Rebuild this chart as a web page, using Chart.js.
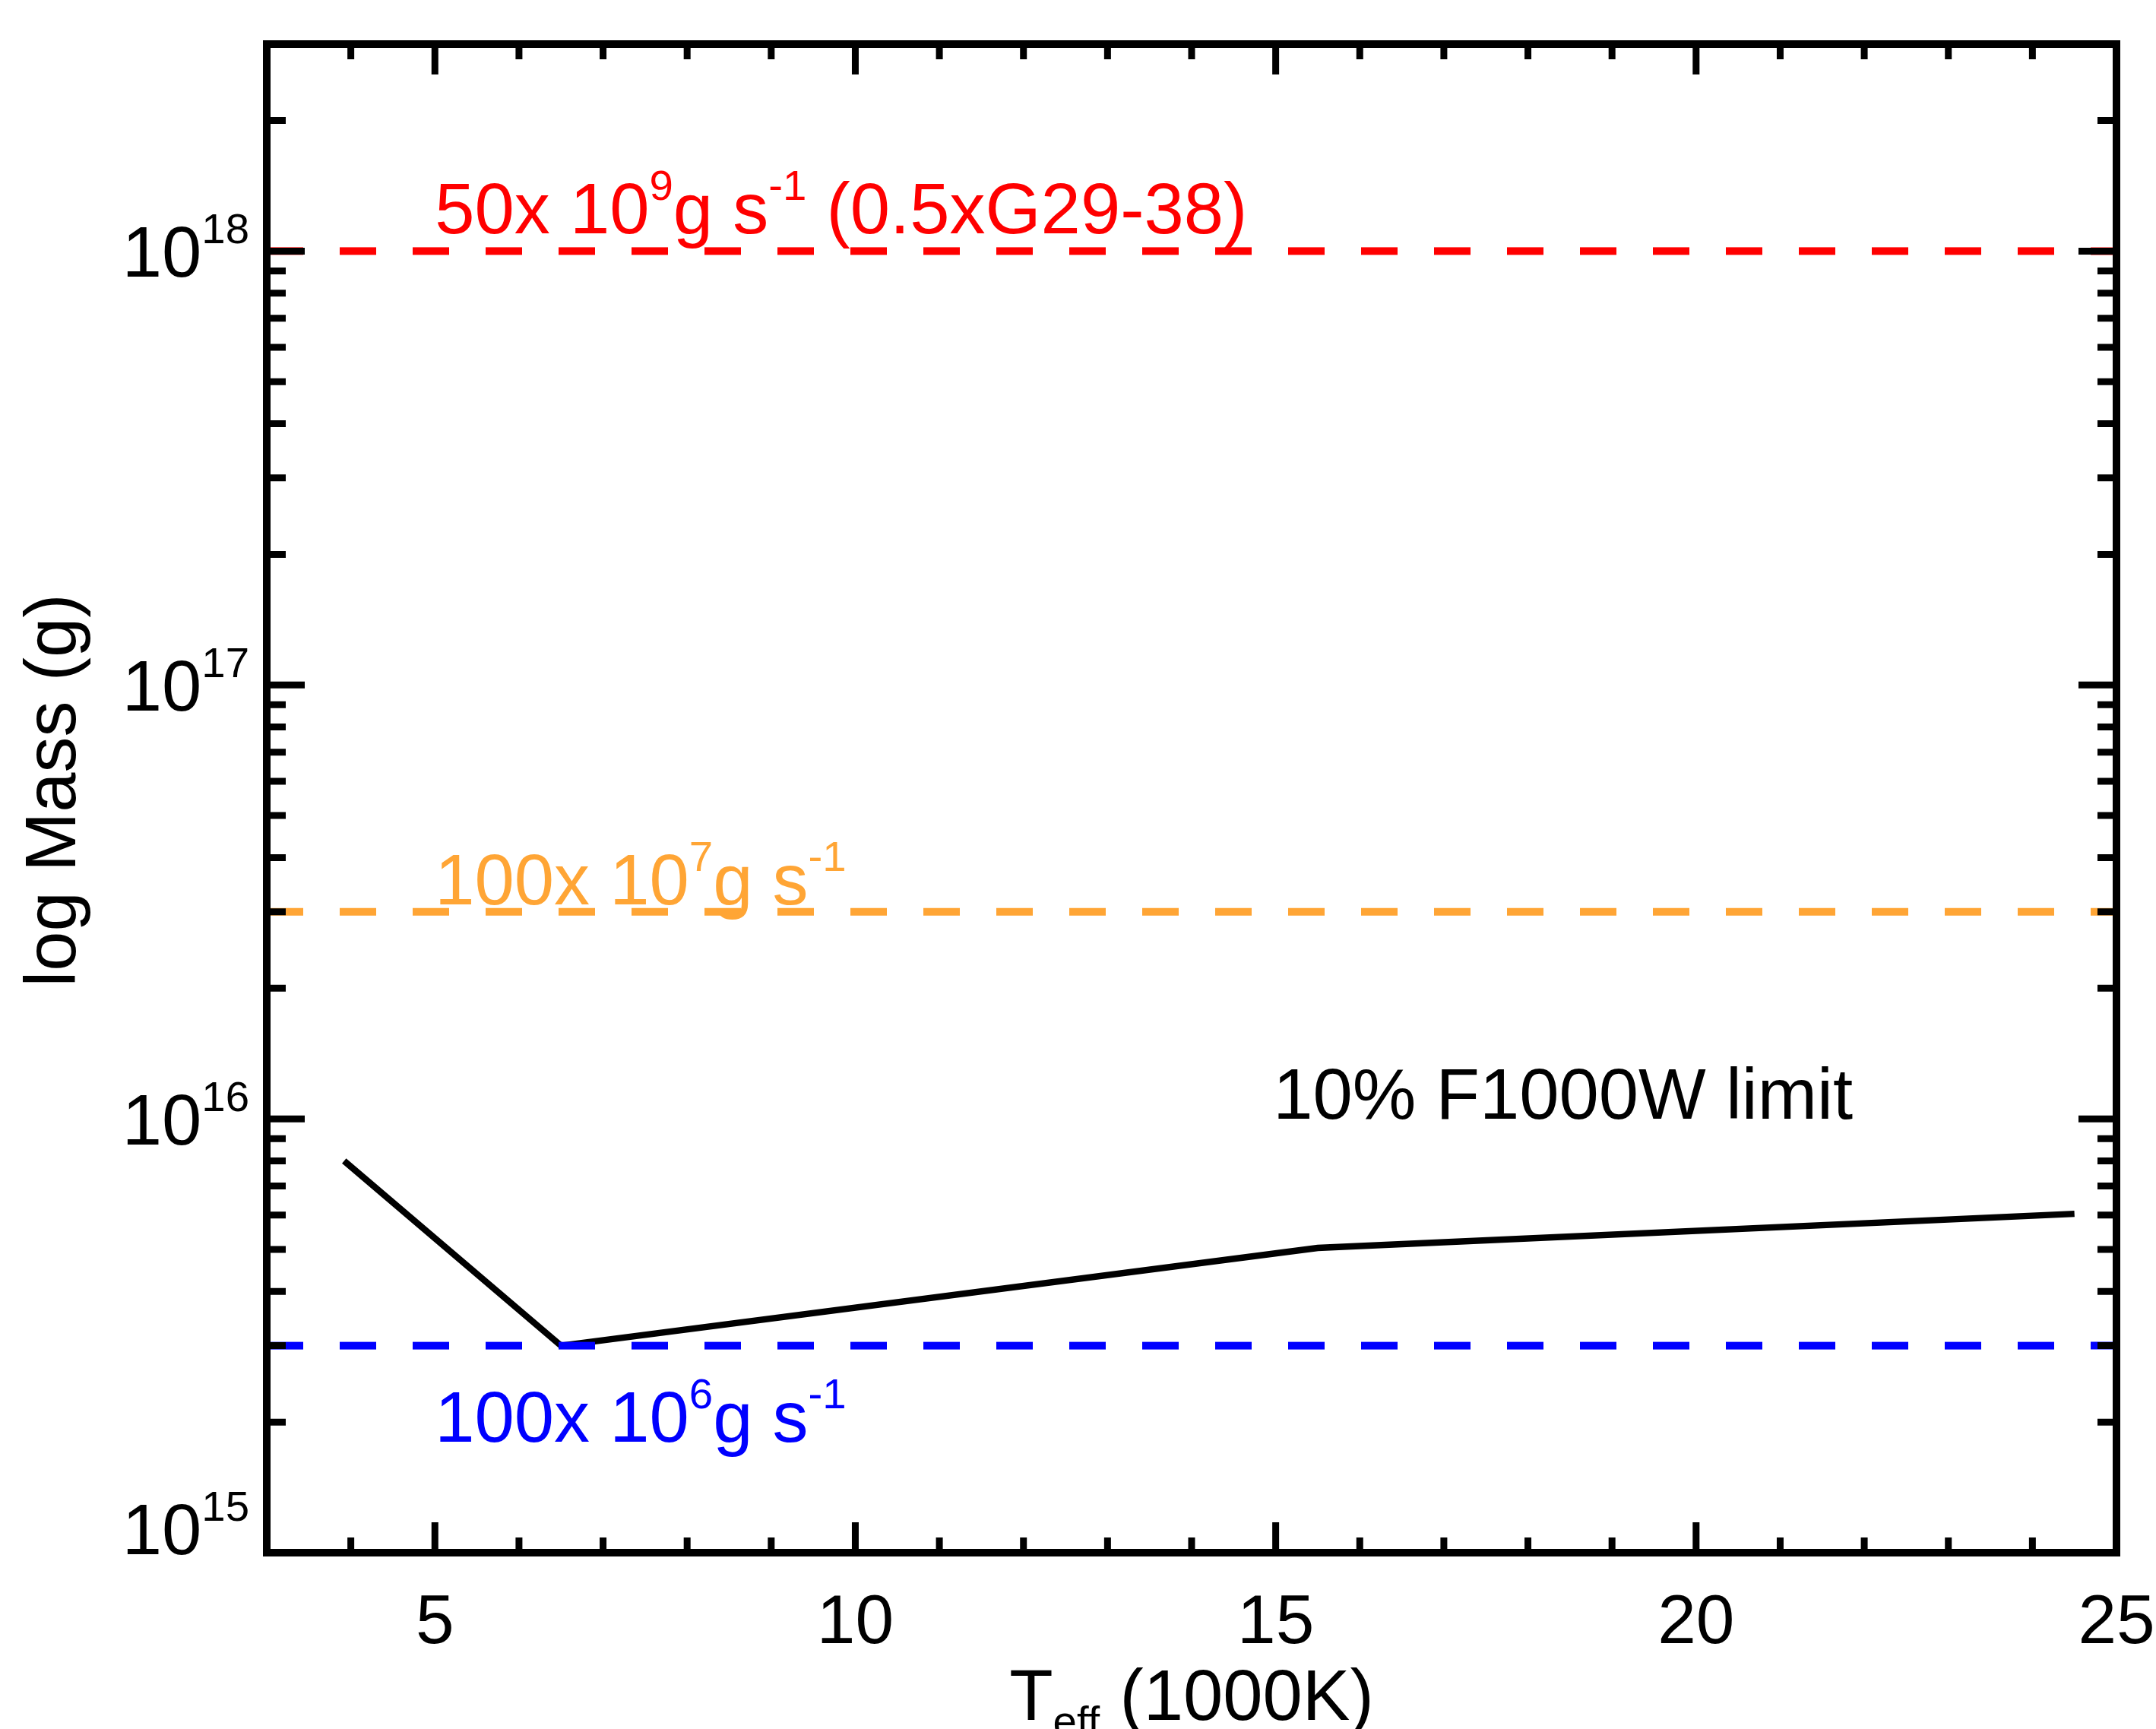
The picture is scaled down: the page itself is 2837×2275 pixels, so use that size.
<!DOCTYPE html>
<html>
<head>
<meta charset="utf-8">
<script src="https://cdn.jsdelivr.net/npm/chart.js@4.4.1/dist/chart.umd.min.js"></script>
<style>
  html, body { margin: 0; padding: 0; background: #fff; }
  #wrap { width: 2837px; height: 2275px; position: relative; }
</style>
</head>
<body>
<div id="wrap"><canvas id="massPlot"></canvas></div>
<script>
// detection limit curve (T_eff in 1000 K, mass in g)
const tempK = [3.92, 6.5, 15.5, 24.5];
const massLimit = [8.0e15, 3.0e15, 5.04e15, 6.04e15];

// accretion-rate reference levels
const rateMass = [1.0e18, 3.0e16, 3.0e15];
const rateColours = ['#ff0000', '#ffa535', '#0000ff'];
const rateText = ['50x 10^{9}g s^{-1} (0.5xG29-38)', '100x 10^{7}g s^{-1}', '100x 10^{6}g s^{-1}'];

const xRange = [3, 25];
const yRange = [1e15, 3e18];
const xMajor = [5, 10, 15, 20, 25];
const yMajor = [1e15, 1e16, 1e17, 1e18];

const FONT = '"Liberation Sans", Arial, Helvetica, sans-serif';
const BIG = 94;

// text placement: x in data units, y in data units (baseline)
const notes = [
    { text: rateText[0], x: 5.0, y: 1.097e18, colour: rateColours[0] },
    { text: rateText[1], x: 5.0, y: 3.12e16, colour: rateColours[1] },
    { text: rateText[2], x: 5.0, y: 1.8e15, colour: rateColours[2] },
    { text: '10% F1000W limit', x: 14.97, y: 1.0e16, colour: '#000000' }
];

function parts(str) {
    let out = [];
    let re = /\^\{([^}]*)\}|_\{([^}]*)\}|([^^_]+)/g;
    let m;
    while ((m = re.exec(str)) !== null) {
        if (m[1] !== undefined) out.push({ t: m[1], k: 'sup' });
        else if (m[2] !== undefined) out.push({ t: m[2], k: 'sub' });
        else out.push({ t: m[3], k: '' });
    }
    return out;
}

function richWidth(ctx, str, size) {
    let w = 0;
    parts(str).forEach((p) => {
        let s = p.k ? size * 0.6 : size;
        ctx.font = s + 'px ' + FONT;
        w += ctx.measureText(p.t).width;
    });
    return w;
}

function drawRich(ctx, str, x, y, size, align) {
    let w = richWidth(ctx, str, size);
    if (align === 'right') x -= w;
    if (align === 'center') x -= w / 2;
    ctx.textAlign = 'left';
    ctx.textBaseline = 'alphabetic';
    parts(str).forEach((p) => {
        let s = size, dy = 0;
        if (p.k === 'sup') { s = size * 0.6; dy = -0.47 * size; }
        if (p.k === 'sub') { s = size * 0.6; dy = 0.22 * size; }
        ctx.font = s + 'px ' + FONT;
        ctx.fillText(p.t, x, y + dy);
        x += ctx.measureText(p.t).width;
    });
}

const frame = {
    id: 'frame',
    afterDraw(chart) {
        const ctx = chart.ctx;
        const a = chart.chartArea;
        const xs = chart.scales.x;
        const ys = chart.scales.y;
        ctx.save();
        ctx.fillStyle = '#000';
        ctx.strokeStyle = '#000';
        ctx.lineCap = 'butt';

        // ticks
        ctx.lineWidth = 9;
        ctx.beginPath();
        for (let v = xRange[0] + 1; v < xRange[1]; v++) {
            let px = xs.getPixelForValue(v);
            let len = xMajor.includes(v) ? 40 : 20;
            ctx.moveTo(px, a.bottom); ctx.lineTo(px, a.bottom - len);
            ctx.moveTo(px, a.top); ctx.lineTo(px, a.top + len);
        }
        for (let d = 15; d <= 18; d++) {
            for (let k = 1; k <= 9; k++) {
                let v = k * Math.pow(10, d);
                if (v > yRange[1] * 1.0001) break;
                let py = ys.getPixelForValue(v);
                let len = k === 1 ? 50 : 25;
                ctx.moveTo(a.left, py); ctx.lineTo(a.left + len, py);
                ctx.moveTo(a.right, py); ctx.lineTo(a.right - len, py);
            }
        }
        ctx.stroke();

        // axis box
        ctx.lineWidth = 10;
        ctx.lineJoin = 'miter';
        ctx.strokeRect(a.left, a.top, a.right - a.left, a.bottom - a.top);

        // x tick labels
        ctx.font = '91px ' + FONT;
        ctx.textAlign = 'center';
        ctx.textBaseline = 'alphabetic';
        xMajor.forEach((v) => {
            ctx.fillText(String(v), xs.getPixelForValue(v), 2162);
        });

        // y tick labels
        yMajor.forEach((v) => {
            let py = ys.getPixelForValue(v);
            let base = py + 34;
            if (base > a.bottom) base = a.bottom + 2;
            drawRich(ctx, '10^{' + Math.round(Math.log10(v)) + '}', a.left - 23, base, BIG, 'right');
        });

        // axis titles
        drawRich(ctx, 'T_{eff} (1000K)', (a.left + a.right) / 2, 2263, BIG, 'center');
        ctx.save();
        ctx.translate(99, 1040);
        ctx.rotate(-Math.PI / 2);
        drawRich(ctx, 'log Mass (g)', 0, 0, BIG, 'center');
        ctx.restore();

        // annotations
        notes.forEach((n) => {
            ctx.fillStyle = n.colour;
            drawRich(ctx, n.text, xs.getPixelForValue(n.x), ys.getPixelForValue(n.y), BIG, 'left');
        });
        ctx.restore();
    }
};

let datasets = rateMass.map((m, i) => ({
    data: [{ x: xRange[0], y: m }, { x: xRange[1], y: m }],
    borderColor: rateColours[i],
    borderWidth: 10,
    borderDash: [48, 48],
    borderCapStyle: 'butt',
    showLine: true,
    pointRadius: 0,
    order: 1
}));
datasets.push({
    data: tempK.map((t, i) => ({ x: t, y: massLimit[i] })),
    borderColor: '#000000',
    borderWidth: 8.5,
    borderJoinStyle: 'miter',
    showLine: true,
    pointRadius: 0,
    tension: 0,
    order: 2
});

let ctx = document.getElementById('massPlot').getContext('2d');
let massChart = new Chart(ctx, {
    type: 'scatter',
    data: { datasets: datasets },
    options: {
        responsive: true,
        maintainAspectRatio: false,
        animation: false,
        devicePixelRatio: 1,
        events: [],
        layout: { padding: { left: 351, right: 52, top: 58, bottom: 232 } },
        plugins: { legend: { display: false }, tooltip: { enabled: false } },
        scales: {
            x: { type: 'linear', min: xRange[0], max: xRange[1], display: false },
            y: { type: 'logarithmic', min: yRange[0], max: yRange[1], display: false }
        }
    },
    plugins: [frame]
});
</script>
</body>
</html>
